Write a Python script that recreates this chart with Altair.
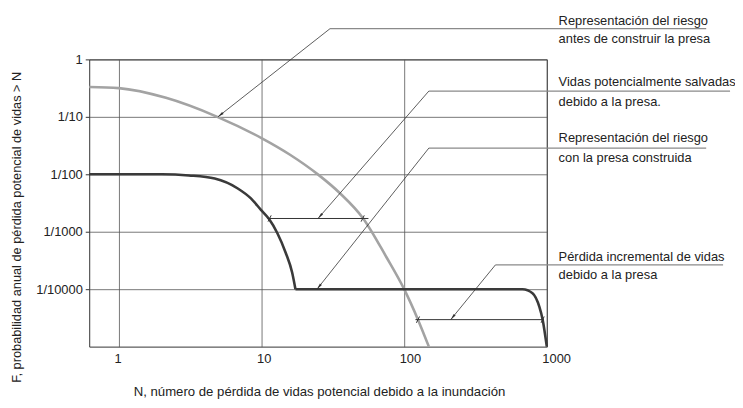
import math
import altair as alt
import pandas as pd

# ---------------- data ----------------
# risk curve before the dam (N, F)
before_N = [0.62, 1.0, 2.14, 4.9, 10, 15.85, 25.1, 35.5, 51.3, 75, 100, 125, 149]
before_F = [0.331, 0.316, 0.214, 0.1, 0.0427, 0.0219, 0.00977, 0.00468, 0.00174,
            0.000363, 0.0001, 0.0000295, 0.00001]

# risk curve with the dam: steep part, then plateau + tail
after1_N = [0.62, 2.0, 3.1, 4.7, 6.82, 8.43, 9.91, 11.3, 12.9, 14.8, 16.4, 17.3]
after1_F = [0.01, 0.01, 0.00955, 0.00843, 0.00566, 0.0038, 0.0024, 0.00166, 0.00095,
            0.000427, 0.000195, 0.0001]
after2_N = [17.3, 676, 794, 887, 935, 1000]
after2_F = [0.0001, 0.0001, 0.000085, 0.000049, 0.0000295, 0.00001]

# comparison intervals (saved lives / incremental loss)
interval_id = ["saved", "saved", "incr", "incr"]
interval_N = [11.0, 56.2, 120, 950]
interval_F = [0.0017, 0.0017, 0.0000295, 0.0000295]

# crossing markers
marker_N = [11.4, 51.2, 125, 935]
marker_F = [0.0017, 0.0017, 0.0000295, 0.0000295]

# axis ticks
x_ticks = [1, 10, 100, 1000]
x_labels = ["1", "10", "100", "1000"]
y_ticks = [1, 0.1, 0.01, 0.001, 0.0001]
y_labels = ["1", "1/10", "1/100", "1/1000", "1/10000"]

x_title = "N, número de pérdida de vidas potencial debido a la inundación"
y_title = "F, probabilidad anual de pérdida potencial de vidas > N"

# annotations: leader tip, elbow, end of underline (data coordinates)
ann_tip_N = [4.95, 24.9, 24.5, 212]
ann_tip_F = [0.1, 0.0017, 0.0001, 0.0000295]
ann_elb_N = [30.2, 149, 149, 436]
ann_elb_F = [3.42, 0.281, 0.0286, 0.000264]
ann_end_N = [13100, 19250, 13100, 17200]
ann_text_N = 1210
ann_line1 = ["Representación del riesgo", "Vidas potencialmente salvadas",
             "Representación del riesgo", "Pérdida incremental de vidas"]
ann_line2 = ["antes de construir la presa", "debido a la presa.",
             "con la presa construida", "debido a la presa"]
ann_line1_F = [3.97, 0.342, 0.0360, 0.000308]
ann_line2_F = [1.96, 0.155, 0.0163, 0.000149]

# ---------------- geometry ----------------
W, H = 462, 290
XD = [0.62, 1000]
YD = [0.00001, 1]


def px(n):
    return (math.log10(n) - math.log10(XD[0])) / (math.log10(XD[1]) - math.log10(XD[0])) * W


def py(f):
    return (math.log10(YD[1]) - math.log10(f)) / (math.log10(YD[1]) - math.log10(YD[0])) * H


# ---------------- tables ----------------
def curve_df(Ns, Fs, seg):
    return pd.DataFrame({"N": Ns, "F": Fs, "seg": seg, "o": list(range(len(Ns)))})


before_df = curve_df(before_N, before_F, "b")
after_df = pd.concat([curve_df(after1_N, after1_F, "a1"), curve_df(after2_N, after2_F, "a2")])
interval_df = pd.DataFrame({"N": interval_N, "F": interval_F, "seg": interval_id,
                            "o": [0, 1, 0, 1]})
marker_df = pd.DataFrame({"N": marker_N, "F": marker_F})

diag_rows, under_rows, head_rows, text_rows = [], [], [], []
for i in range(4):
    diag_rows += [{"N": ann_tip_N[i], "F": ann_tip_F[i], "seg": i, "o": 0},
                  {"N": ann_elb_N[i], "F": ann_elb_F[i], "seg": i, "o": 1}]
    under_rows += [{"N": ann_elb_N[i], "F": ann_elb_F[i], "seg": i, "o": 0},
                   {"N": ann_end_N[i], "F": ann_elb_F[i], "seg": i, "o": 1}]
    dx = px(ann_tip_N[i]) - px(ann_elb_N[i])
    dy = py(ann_tip_F[i]) - py(ann_elb_F[i])
    ang = math.degrees(math.atan2(dx, -dy)) % 360
    head_rows.append({"N": ann_tip_N[i], "F": ann_tip_F[i], "ang": ang})
    text_rows.append({"N": ann_text_N, "F": ann_line1_F[i], "t": ann_line1[i]})
    text_rows.append({"N": ann_text_N, "F": ann_line2_F[i], "t": ann_line2[i]})
diag_df = pd.DataFrame(diag_rows)
under_df = pd.DataFrame(under_rows)
head_df = pd.DataFrame(head_rows)
text_df = pd.DataFrame(text_rows)


def label_expr(ticks, labels, descending):
    parts = []
    for t, l in zip(ticks, labels):
        if descending:
            parts.append(f"datum.value > {t / 2} ? '{l}' : ")
        else:
            parts.append(f"datum.value < {t * 5} ? '{l}' : ")
    return "".join(parts) + "''"


FONT = "Liberation Sans"
xs = alt.Scale(type="log", domain=XD, nice=False)
ys = alt.Scale(type="log", domain=YD, nice=False)
xaxis = alt.Axis(values=x_ticks, labelExpr=label_expr(x_ticks, x_labels, False),
                 ticks=False, tickSize=0, labelPadding=6, labelFlush=False,
                 labelAlign="left", labelOffset=-5,
                 labelOverlap=False, grid=True, title=x_title, titleFontSize=13.3,
                 titleX=232, titleY=49, titleAlign="center", titleBaseline="alphabetic")
yaxis = alt.Axis(values=y_ticks, labelExpr=label_expr(y_ticks, y_labels, True),
                 ticks=True, tickSize=4, tickColor="#333", labelPadding=3,
                 labelOverlap=False, grid=True, title=y_title, titleFontSize=12.9,
                 titleX=-73, titleY=169, titleAngle=270, titleAlign="center",
                 titleBaseline="middle")


def enc():
    return dict(x=alt.X("N:Q", scale=xs, axis=xaxis, title=x_title),
                y=alt.Y("F:Q", scale=ys, axis=yaxis, title=y_title))


before = alt.Chart(before_df).mark_line(
    color="#a3a3a3", strokeWidth=2.6, interpolate="monotone").encode(
    **enc(), detail="seg:N", order="o:Q")
after = alt.Chart(after_df).mark_line(
    color="#3a3a3a", strokeWidth=2.6, interpolate="monotone").encode(
    **enc(), detail="seg:N", order="o:Q")
intervals = alt.Chart(interval_df).mark_line(color="#333", strokeWidth=1).encode(
    **enc(), detail="seg:N", order="o:Q")
markers = alt.Chart(marker_df).mark_point(
    shape="M-0.5,1L0.5,-1", filled=False, size=40, stroke="#333",
    strokeWidth=1, opacity=1).encode(**enc())
diag = alt.Chart(diag_df).mark_line(color="#333", strokeWidth=0.8).encode(
    **enc(), detail="seg:N", order="o:Q")
under = alt.Chart(under_df).mark_line(color="#8a8a8a", strokeWidth=1.3).encode(
    **enc(), detail="seg:N", order="o:Q")
heads = alt.Chart(head_df).mark_point(
    shape="M0,0L-0.4,2L0.4,2Z", filled=True, size=40, color="#333",
    strokeWidth=0, opacity=1).encode(**enc(), angle=alt.Angle("ang:Q", scale=None))
texts = alt.Chart(text_df).mark_text(
    align="left", baseline="alphabetic", font=FONT, fontSize=13, color="#222").encode(
    **enc(), text="t:N")

chart = alt.layer(before, after, intervals, markers, under, diag, heads, texts).properties(
    width=W, height=H,
    autosize=alt.AutoSizeParams(type="none"),
    padding={"left": 82, "top": 50, "right": 190, "bottom": 52},
).configure_view(stroke="#333", strokeWidth=1).configure_axis(
    labelFont=FONT, titleFont=FONT, labelFontSize=13, labelColor="#222",
    titleColor="#222", titleFontWeight="normal",
    gridColor="#555", gridWidth=0.8, domain=False)

chart.save("out.html", embed_options={"renderer": "svg", "actions": False})
